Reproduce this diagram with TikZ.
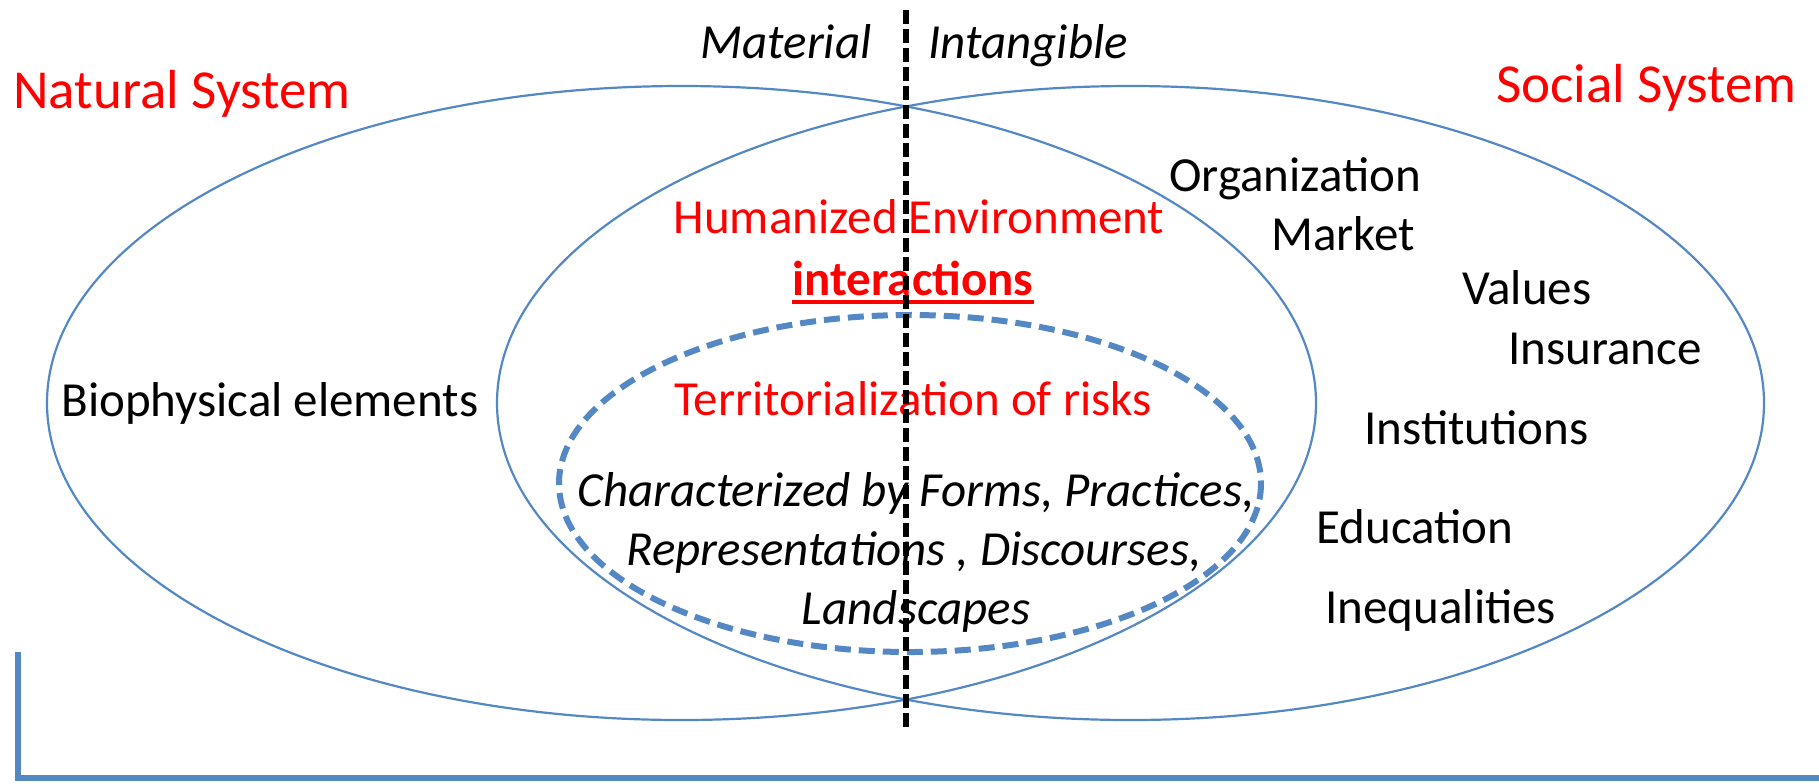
\documentclass[tikz,border=0pt]{standalone}
\usepackage{fontspec}
\setmainfont{Carlito}
\definecolor{ringblue}{RGB}{84,136,196}
\begin{document}
\begin{tikzpicture}[x=0.5pt,y=-0.5pt,
  every node/.style={inner sep=0pt,font=\fontsize{24.5}{29.5}\selectfont},
  sys/.style={red,font=\fontsize{27.5}{31}\selectfont},
  slant/.style={font=\fontsize{24.5}{29.5}\selectfont\itshape},
  ring/.style={draw=ringblue,line width=1.1pt},
  territory/.style={draw=ringblue,line width=3pt,dash pattern=on 8pt off 4pt}]

	\useasboundingbox (0,0) rectangle (1819,783);

	% natural and social systems
	\draw[ring] (681.5,403) ellipse [x radius=634.5, y radius=317];
	\draw[ring] (1130.5,403) ellipse [x radius=633.5, y radius=317];
	\draw[territory] (910,483.5) ellipse [x radius=351, y radius=168.5];

	\node[sys,anchor=base west] (natural) at (13,108) {Natural System};
	\node[sys,anchor=base east] (social) at (1797,102) {Social System};
	\node[slant,anchor=base east] (material) at (872,58) {Material};
	\node[slant,anchor=base west] (intangible) at (928,58) {Intangible};

	\node[anchor=base west] (bio) at (61,416) {Biophysical elements};

	\node[red,anchor=base] (human) at (919,233) {Humanized Environment};
	\node[red,anchor=base,font=\fontsize{24.5}{29.5}\selectfont\bfseries] (inter) at (913,295) {interactions};
	\draw[red,line width=2pt] ([yshift=-3.5pt]inter.base west) -- ([yshift=-3.5pt]inter.base east);

	\node[red,anchor=base] (terr) at (913,415) {Territorialization of risks};
	\node[slant,anchor=base] (char1) at (916,506) {Characterized by Forms, Practices,};
	\node[slant,anchor=base] (char2) at (914,565) {Representations , Discourses,};
	\node[slant,anchor=base] (char3) at (916,624) {Landscapes};

	\node[anchor=base west] (org) at (1169,191) {Organization};
	\node[anchor=base west] (market) at (1271,250) {Market};
	\node[anchor=base west] (values) at (1462,304) {Values};
	\node[anchor=base west] (insur) at (1508,364) {Insurance};
	\node[anchor=base west] (inst) at (1364,444) {Institutions};
	\node[anchor=base west] (edu) at (1316,543) {Education};
	\node[anchor=base west] (ineq) at (1325,623) {Inequalities};

	% material / intangible divide
	\coordinate (dtop) at (906,10);
	\coordinate (dbot) at (906,730);
	\draw[line width=2.6pt,dash pattern=on 7pt off 2.5pt] (dtop) -- (dbot);

	\coordinate (b1) at (18,652);
	\coordinate (b2) at (18,778);
	\coordinate (b3) at (1819,778);
	\draw[ringblue,line width=2.8pt] (b1) -- (b2) -- (b3);
\end{tikzpicture}
\end{document}
